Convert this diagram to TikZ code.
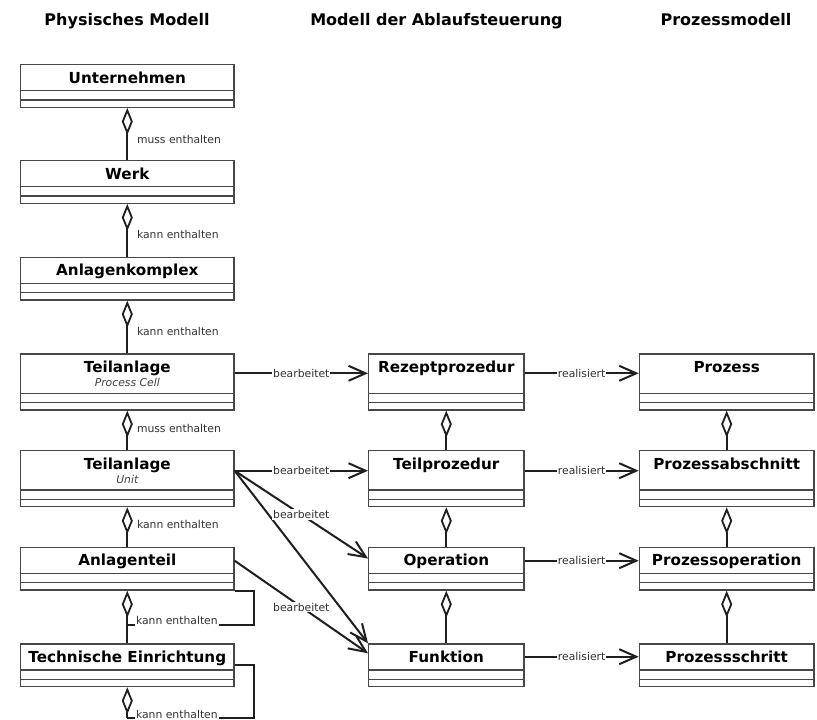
\documentclass[tikz,border=0pt]{standalone}
\usepackage{fontspec}
\setmainfont{DejaVu Sans}
\usetikzlibrary{arrows.meta,calc}

\tikzset{
  classbox/.style={draw=black!72, line width=1.3pt, fill=white, inner sep=0pt, rectangle},
  divider/.style={draw=black!72, line width=1.3pt},
  classname/.style={font=\fontsize{15.2}{18}\selectfont\bfseries, inner sep=0pt},
  subname/.style={font=\fontsize{10.8}{13}\selectfont\itshape, text=black!75, inner sep=0pt},
  header/.style={font=\fontsize{16}{19}\selectfont\bfseries, inner sep=0pt},
  conn/.style={draw=black!88, line width=2pt},
  agg/.style={conn, {Diamond[open, length=27pt, width=11pt, line width=1.8pt]}-},
  assoc/.style={conn, -{Straight Barb[length=17pt, width=15pt, line width=2pt]}},
  lbl/.style={font=\fontsize{10.8}{13}\selectfont, text=black!80, inner sep=1pt},
  onlbl/.style={lbl, fill=white, midway},
}

% UML class with empty attribute and operation compartments
% #1 node name, #2 left x, #3 top y, #4 width, #5 height of name part, #6 class name
\newcommand{\umlclass}[6]{%
  \node[classbox, anchor=north west, minimum width=#4pt, minimum height=#5pt+16pt] (#1) at (#2,#3) {};
  \draw[divider] ([yshift=-#5pt]#1.north west) -- ([yshift=-#5pt]#1.north east);
  \draw[divider] ([yshift=8pt]#1.south west) -- ([yshift=8pt]#1.south east);
  \node[classname, anchor=base] (#1-name) at ([yshift=-19pt]#1.north) {#6};
}

\begin{document}
\begin{tikzpicture}[x=1pt, y=-1pt]
\useasboundingbox[fill=white] (0,0) rectangle (817,720);

% column headings
\node[header, anchor=base] (h1) at (127,25) {Physisches Modell};
\node[header, anchor=base] (h2) at (436.5,25) {Modell der Ablaufsteuerung};
\node[header, anchor=base] (h3) at (726,25) {Prozessmodell};

% physical model
\umlclass{unt}{20}{64}{213.3}{26.7}{Unternehmen}
\umlclass{werk}{20}{160}{213.3}{26.7}{Werk}
\umlclass{akomp}{20}{256.7}{213.3}{26.7}{Anlagenkomplex}
\umlclass{tapc}{20}{353.3}{213.3}{40}{Teilanlage}
\node[subname, anchor=base] (tapc-sub) at ([yshift=-33.4pt]tapc.north) {Process Cell};
\umlclass{taunit}{20}{450}{213.3}{40}{Teilanlage}
\node[subname, anchor=base] (taunit-sub) at ([yshift=-33.4pt]taunit.north) {Unit};
\umlclass{ateil}{20}{546.7}{213.3}{26.7}{Anlagenteil}
\umlclass{tech}{20}{643.3}{213.3}{26.7}{Technische Einrichtung}

% procedural control model
\umlclass{rezept}{368}{353.3}{155.3}{40}{Rezeptprozedur}
\umlclass{teilproz}{368}{450}{155.3}{40}{Teilprozedur}
\umlclass{oper}{368}{546.7}{155.3}{26.7}{Operation}
\umlclass{funk}{368}{643.3}{155.3}{26.7}{Funktion}

% process model
\umlclass{prozess}{638.7}{353.3}{174.7}{40}{Prozess}
\umlclass{pabschn}{638.7}{450}{174.7}{40}{Prozessabschnitt}
\umlclass{poper}{638.7}{546.7}{174.7}{26.7}{Prozessoperation}
\umlclass{pschritt}{638.7}{643.3}{174.7}{26.7}{Prozessschritt}

% aggregations of the physical model
\draw[agg] (unt.south) -- (werk.north);
\node[lbl, anchor=west] (l1) at ([xshift=8.5pt,yshift=-31.6pt]unt.south) {muss enthalten};
\draw[agg] (werk.south) -- (akomp.north);
\node[lbl, anchor=west] (l2) at ([xshift=8.5pt,yshift=-30.6pt]werk.south) {kann enthalten};
\draw[agg] (akomp.south) -- (tapc.north);
\node[lbl, anchor=west] (l3) at ([xshift=8.5pt,yshift=-31pt]akomp.south) {kann enthalten};
\draw[agg] (tapc.south) -- (taunit.north);
\node[lbl, anchor=west] (l4) at ([xshift=8.5pt,yshift=-18pt]tapc.south) {muss enthalten};
\draw[agg] (taunit.south) -- (ateil.north);
\node[lbl, anchor=west] (l5) at ([xshift=8.5pt,yshift=-17.3pt]taunit.south) {kann enthalten};
\draw[agg] (ateil.south) -- (tech.north);

% self aggregation of Anlagenteil
\coordinate (la) at ([yshift=-34pt]ateil.south);
\coordinate (lar) at ([xshift=19pt]ateil.south east);
\draw[conn] (la) -- (la -| lar) -- (lar) -- (ateil.south east);
\node[lbl, fill=white, inner sep=1.5pt, anchor=base west] (l6) at ([xshift=7pt]la) {kann enthalten};

% self aggregation of Technische Einrichtung
\coordinate (lb) at ([yshift=-30.7pt]tech.south);
\coordinate (lbr) at ([xshift=19pt,yshift=-21.7pt]tech.north east);
\draw[agg] (tech.south) -- (lb);
\draw[conn] (lb) -- (lb -| lbr) -- (lbr) -- ([yshift=-21.7pt]tech.north east);
\node[lbl, fill=white, inner sep=1.5pt, anchor=base west] (l7) at ([xshift=7pt]lb) {kann enthalten};

% aggregations of the procedural and process models
\draw[agg] (rezept.south) -- (teilproz.north);
\draw[agg] (teilproz.south) -- (oper.north);
\draw[agg] (oper.south) -- (funk.north);
\draw[agg] (prozess.south) -- (pabschn.north);
\draw[agg] (pabschn.south) -- (poper.north);
\draw[agg] (poper.south) -- (pschritt.north);

% equipment performs procedural elements
\draw[assoc] ([yshift=-20pt]tapc.north east) -- node[onlbl] {bearbeitet} ([yshift=-20pt]rezept.north west);
\draw[assoc] ([yshift=-20.7pt]taunit.north east) -- node[onlbl] {bearbeitet} ([yshift=-20.7pt]teilproz.north west);
\draw[assoc] ([yshift=-20.7pt]taunit.north east) -- (funk.north west);
\draw[assoc] ([yshift=-20.7pt]taunit.north east) -- node[onlbl] {bearbeitet} ([yshift=-11.8pt]oper.north west);
\draw[assoc] ([yshift=-14pt]ateil.north east) -- node[onlbl] {bearbeitet} ([yshift=-10pt]funk.north west);

% procedural elements realise process elements
\draw[assoc] ([yshift=-20pt]rezept.north east) -- node[onlbl] {realisiert} ([yshift=-20pt]prozess.north west);
\draw[assoc] ([yshift=-20.7pt]teilproz.north east) -- node[onlbl] {realisiert} ([yshift=-20.7pt]pabschn.north west);
\draw[assoc] ([yshift=-14pt]oper.north east) -- node[onlbl] {realisiert} ([yshift=-14pt]poper.north west);
\draw[assoc] ([yshift=-13.4pt]funk.north east) -- node[onlbl] {realisiert} ([yshift=-13.4pt]pschritt.north west);
\end{tikzpicture}
\end{document}
